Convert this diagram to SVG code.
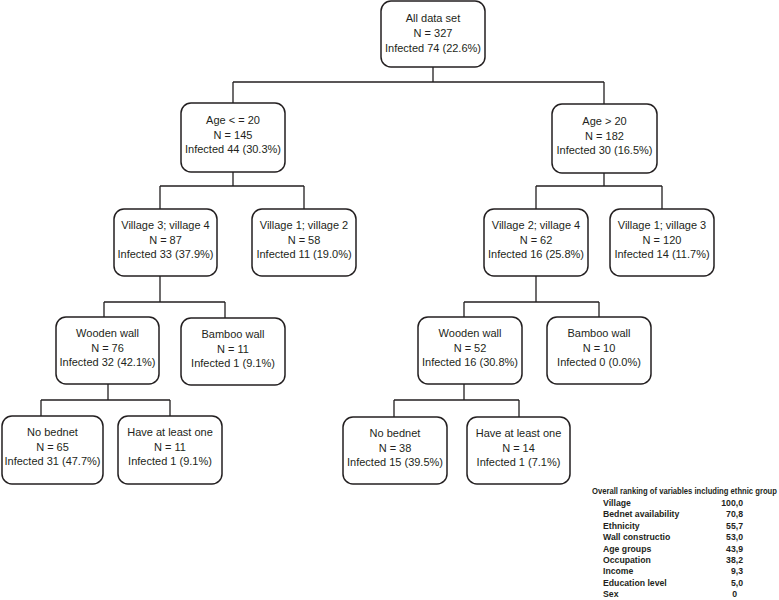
<svg xmlns="http://www.w3.org/2000/svg" width="779" height="600" viewBox="0 0 779 600">
<style>
.box{fill:#ffffff;stroke:#231f20;stroke-width:1.5}
.conn{fill:none;stroke:#231f20;stroke-width:1.3}
.t{font-family:"Liberation Sans",Arial,sans-serif;font-size:11px;fill:#231f20;text-anchor:middle}
.lg{font-family:"Liberation Sans",Arial,sans-serif;font-size:8.7px;font-weight:bold;fill:#231f20}
.lv{text-anchor:end}
</style>
<rect width="779" height="600" fill="#ffffff"/>
<g id="connectors">
<path class="conn" d="M433,67V82M233,82H604M233,82V103M604,82V104"/>
<path class="conn" d="M233,172V186M160,186H304M160,186V209M304,186V209"/>
<path class="conn" d="M604,173V186M536,186H662M536,186V209M662,186V209"/>
<path class="conn" d="M160,276V302M104,302H225M104,302V317M225,302V318"/>
<path class="conn" d="M536,276V302M464,302H599M464,302V317M599,302V317"/>
<path class="conn" d="M108,384V400M41,400H170M41,400V416M170,400V416"/>
<path class="conn" d="M464,384V400M394,400H519M394,400V417M519,400V417"/>
</g>
<g id="root">
<rect class="box" x="381" y="1" width="104" height="66" rx="10"/>
<text class="t" x="433" y="22">All data set</text>
<text class="t" x="433" y="37">N = 327</text>
<text class="t" x="433" y="51.5">Infected 74 (22.6%)</text>
</g>
<g id="age_le20">
<rect class="box" x="181" y="103" width="104" height="69" rx="10"/>
<text class="t" x="233" y="124">Age &lt; = 20</text>
<text class="t" x="233" y="138.5">N = 145</text>
<text class="t" x="233" y="153">Infected 44 (30.3%)</text>
</g>
<g id="age_gt20">
<rect class="box" x="552" y="104" width="105" height="69" rx="10"/>
<text class="t" x="604.5" y="125">Age &gt; 20</text>
<text class="t" x="604.5" y="139.5">N = 182</text>
<text class="t" x="604.5" y="154">Infected 30 (16.5%)</text>
</g>
<g id="v34">
<rect class="box" x="114" y="209" width="103" height="67" rx="10"/>
<text class="t" x="165.5" y="229">Village 3; village 4</text>
<text class="t" x="165.5" y="243.5">N = 87</text>
<text class="t" x="165.5" y="258">Infected 33 (37.9%)</text>
</g>
<g id="v12">
<rect class="box" x="252" y="209" width="104" height="67" rx="10"/>
<text class="t" x="304" y="229">Village 1; village 2</text>
<text class="t" x="304" y="243.5">N = 58</text>
<text class="t" x="304" y="258">Infected 11 (19.0%)</text>
</g>
<g id="v24">
<rect class="box" x="484" y="209" width="104" height="67" rx="10"/>
<text class="t" x="536" y="229">Village 2; village 4</text>
<text class="t" x="536" y="243.5">N = 62</text>
<text class="t" x="536" y="258">Infected 16 (25.8%)</text>
</g>
<g id="v13">
<rect class="box" x="610" y="209" width="104" height="67" rx="10"/>
<text class="t" x="662" y="229">Village 1; village 3</text>
<text class="t" x="662" y="243.5">N = 120</text>
<text class="t" x="662" y="258">Infected 14 (11.7%)</text>
</g>
<g id="ww_l">
<rect class="box" x="56" y="317" width="103" height="67" rx="10"/>
<text class="t" x="107.5" y="337">Wooden wall</text>
<text class="t" x="107.5" y="351.5">N = 76</text>
<text class="t" x="107.5" y="366">Infected 32 (42.1%)</text>
</g>
<g id="bw_l">
<rect class="box" x="181" y="318" width="104" height="67" rx="10"/>
<text class="t" x="233" y="338">Bamboo wall</text>
<text class="t" x="233" y="352.5">N = 11</text>
<text class="t" x="233" y="367">Infected 1 (9.1%)</text>
</g>
<g id="ww_r">
<rect class="box" x="418" y="317" width="104" height="67" rx="10"/>
<text class="t" x="470" y="337">Wooden wall</text>
<text class="t" x="470" y="351.5">N = 52</text>
<text class="t" x="470" y="366">Infected 16 (30.8%)</text>
</g>
<g id="bw_r">
<rect class="box" x="547" y="317" width="104" height="67" rx="10"/>
<text class="t" x="599" y="337">Bamboo wall</text>
<text class="t" x="599" y="351.5">N = 10</text>
<text class="t" x="599" y="366">Infected 0 (0.0%)</text>
</g>
<g id="nb_l">
<rect class="box" x="2" y="416" width="101" height="68" rx="10"/>
<text class="t" x="52.5" y="436">No bednet</text>
<text class="t" x="52.5" y="450.5">N = 65</text>
<text class="t" x="52.5" y="465">Infected 31 (47.7%)</text>
</g>
<g id="h1_l">
<rect class="box" x="118" y="416" width="104" height="68" rx="10"/>
<text class="t" x="170" y="436">Have at least one</text>
<text class="t" x="170" y="450.5">N = 11</text>
<text class="t" x="170" y="465">Infected 1 (9.1%)</text>
</g>
<g id="nb_r">
<rect class="box" x="343" y="417" width="104" height="67" rx="10"/>
<text class="t" x="395" y="437">No bednet</text>
<text class="t" x="395" y="451.5">N = 38</text>
<text class="t" x="395" y="466">Infected 15 (39.5%)</text>
</g>
<g id="h1_r">
<rect class="box" x="467" y="417" width="103" height="67" rx="10"/>
<text class="t" x="518.5" y="437">Have at least one</text>
<text class="t" x="518.5" y="451.5">N = 14</text>
<text class="t" x="518.5" y="466">Infected 1 (7.1%)</text>
</g>
<g id="ranking">
<text class="lg" transform="translate(592,494) scale(0.88,1)" x="0" y="0" font-size="7.3">Overall ranking of variables including ethnic group</text>
<text class="lg" x="603" y="506">Village</text>
<text class="lg" x="603" y="517.4">Bednet availability</text>
<text class="lg" x="603" y="528.8">Ethnicity</text>
<text class="lg" x="603" y="540.2">Wall constructio</text>
<text class="lg" x="603" y="551.6">Age groups</text>
<text class="lg" x="603" y="563">Occupation</text>
<text class="lg" x="603" y="574.4">Income</text>
<text class="lg" x="603" y="585.8">Education level</text>
<text class="lg" x="603" y="597">Sex</text>
<text class="lg lv" x="743" y="506">100,0</text>
<text class="lg lv" x="743" y="517.4">70,8</text>
<text class="lg lv" x="743" y="528.8">55,7</text>
<text class="lg lv" x="743" y="540.2">53,0</text>
<text class="lg lv" x="743" y="551.6">43,9</text>
<text class="lg lv" x="743" y="563">38,2</text>
<text class="lg lv" x="743" y="574.4">9,3</text>
<text class="lg lv" x="743" y="585.8">5,0</text>
<text class="lg lv" x="737" y="597">0</text>
</g>
</svg>
